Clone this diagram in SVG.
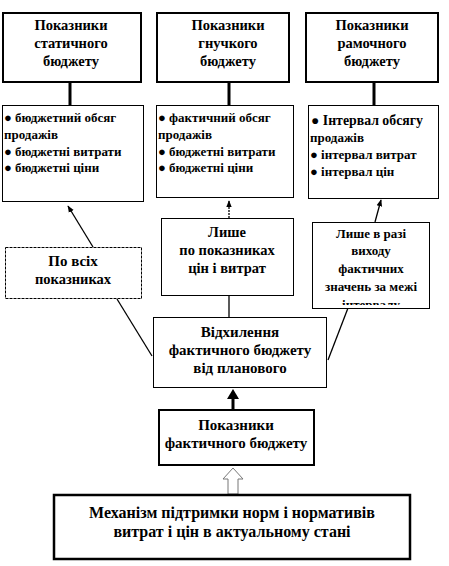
<svg xmlns="http://www.w3.org/2000/svg" width="449" height="566" viewBox="0 0 449 566">
<defs>
<style>
.t{font-family:"Liberation Serif","Times New Roman",serif;font-weight:bold;font-size:13px;fill:#000}
.h{font-size:14.5px}
.m{font-size:15px}
.c{text-anchor:middle}
.box{fill:#fff;stroke:#000;stroke-width:1}
.bold{fill:#fff;stroke:#000;stroke-width:2}
.ln{stroke:#000;stroke-width:1.3;fill:none}
</style>
<marker id="ah" viewBox="0 0 10 10" refX="9" refY="5" markerWidth="7" markerHeight="7" orient="auto" markerUnits="userSpaceOnUse">
<path d="M0,1 L10,5 L0,9 Z" fill="#000"/>
</marker>
</defs>
<rect width="449" height="566" fill="#fff"/>

<g id="connectors">
<line x1="70" y1="82" x2="70" y2="105" stroke="#000" stroke-width="3"/>
<line x1="229" y1="82" x2="229" y2="105" stroke="#000" stroke-width="3"/>
<line x1="374" y1="82" x2="374" y2="105" stroke="#000" stroke-width="3"/>
<line class="ln" x1="152" y1="356" x2="117" y2="299"/>
<line class="ln" x1="93" y1="247" x2="68" y2="206" marker-end="url(#ah)"/>
<line class="ln" x1="229" y1="317" x2="229" y2="295"/>
<line class="ln" x1="229" y1="218" x2="229" y2="201" stroke-dasharray="2,1" marker-end="url(#ah)"/>
<line class="ln" x1="328" y1="360" x2="348" y2="308"/>
<line class="ln" x1="375" y1="222" x2="381" y2="200" marker-end="url(#ah)"/>
<line x1="233" y1="409" x2="233" y2="398" stroke="#000" stroke-width="3"/>
<path d="M227,399 L233,389 L239,399 Z" fill="#000"/>
<path d="M233,468 L243,479 L238,479 L238,494 L228,494 L228,479 L223,479 Z" fill="#fff" stroke="#777" stroke-width="1"/>
</g>

<g id="n1"><rect class="bold" x="3" y="13" width="138" height="69"/>
<text class="t h c" x="71" y="30">Показники</text><text class="t h c" x="71" y="48">статичного</text><text class="t h c" x="71" y="66">бюджету</text></g>
<g id="n2"><rect class="bold" x="157" y="13" width="132" height="69"/>
<text class="t h c" x="228" y="30">Показники</text><text class="t h c" x="228" y="48">гнучкого</text><text class="t h c" x="228" y="66">бюджету</text></g>
<g id="n3"><rect class="bold" x="306" y="13" width="132" height="69"/>
<text class="t h c" x="372" y="30">Показники</text><text class="t h c" x="372" y="48">рамочного</text><text class="t h c" x="372" y="66">бюджету</text></g>

<g id="n4"><rect class="box" x="2.5" y="105.5" width="141" height="96"/>
<text class="t" x="4" y="122">● бюджетний обсяг</text><text class="t" x="4" y="139">продажів</text><text class="t" x="4" y="156">● бюджетні витрати</text><text class="t" x="4" y="172">● бюджетні ціни</text></g>
<g id="n5"><rect class="box" x="156.5" y="105.5" width="137" height="92"/>
<text class="t" x="158" y="122">● фактичний обсяг</text><text class="t" x="158" y="139">продажів</text><text class="t" x="158" y="156">● бюджетні витрати</text><text class="t" x="158" y="172">● бюджетні ціни</text></g>
<g id="n6"><rect class="box" x="308.5" y="105.5" width="130" height="93"/>
<text class="t" x="311" y="125" style="font-size:13.8px">● Інтервал обсягу</text><text class="t" x="310" y="142">продажів</text><text class="t" x="310" y="159">● інтервал витрат</text><text class="t" x="310" y="176">● інтервал цін</text></g>

<g id="n7"><rect class="box" x="5.5" y="247.5" width="136" height="51" stroke-dasharray="3,1"/>
<text class="t m c" x="73" y="266">По всіх</text><text class="t h c" x="73" y="284">показниках</text></g>
<g id="n8"><rect class="box" x="161.5" y="218.5" width="132" height="77"/>
<text class="t h c" x="227" y="237">Лише</text><text class="t h c" x="227" y="255">по показниках</text><text class="t h c" x="227" y="273">цін і витрат</text></g>
<g id="n9"><rect class="box" x="312.5" y="222.5" width="117" height="86"/>
<svg x="312" y="222" width="118" height="83" overflow="hidden">
<text class="t c" x="59" y="16">Лише в разі</text><text class="t c" x="59" y="33">виходу</text><text class="t c" x="59" y="51">фактичних</text><text class="t c" x="59" y="69">значень за межі</text><text class="t c" x="59" y="87">інтервалу</text></svg></g>

<g id="n10"><rect class="box" x="153.5" y="317.5" width="173" height="70"/>
<text class="t m c" x="240" y="337">Відхилення</text><text class="t m c" x="240" y="355">фактичного бюджету</text><text class="t m c" x="240" y="373">від планового</text></g>

<g id="n11"><rect class="bold" x="159" y="410" width="155" height="55"/>
<text class="t m c" x="236" y="430">Показники</text><text class="t m c" x="236" y="448">фактичного бюджету</text></g>

<g id="n12"><rect x="54" y="495" width="356" height="64" fill="#fff" stroke="#000" stroke-width="2.5"/>
<text class="t c" x="232" y="518" style="font-size:16px">Механізм підтримки норм і нормативів</text><text class="t c" x="232" y="537" style="font-size:16px">витрат і цін в актуальному стані</text></g>
</svg>
